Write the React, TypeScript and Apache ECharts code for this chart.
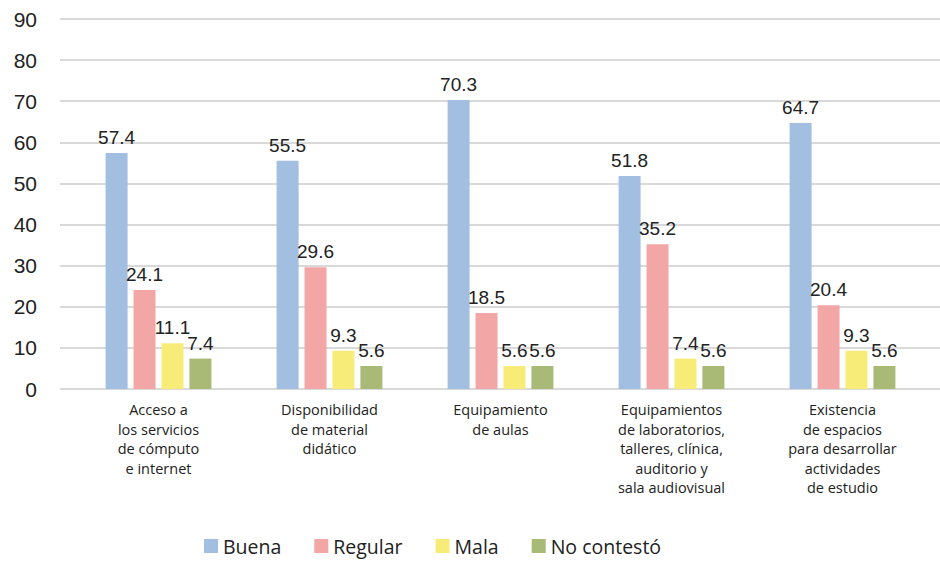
import React, { useEffect, useRef } from "react";
import * as echarts from "echarts";

const categories = [
  "Acceso a\nlos servicios\nde cómputo\ne internet",
  "Disponibilidad\nde material\ndidático",
  "Equipamiento\nde aulas",
  "Equipamientos\nde laboratorios,\ntalleres, clínica,\nauditorio y\nsala audiovisual",
  "Existencia\nde espacios\npara desarrollar\nactividades\nde estudio",
];
const buena = [57.4, 55.5, 70.3, 51.8, 64.7];
const regular = [24.1, 29.6, 18.5, 35.2, 20.4];
const mala = [11.1, 9.3, 5.6, 7.4, 9.3];
const noContesto = [7.4, 5.6, 5.6, 5.6, 5.6];
const seriesNames = ["Buena", "Regular", "Mala", "No contestó"];
const colors = ["#A2BFE1", "#F3A6A6", "#F7EC77", "#A8BA75"];

const numFont = "'Liberation Sans', Arial, sans-serif";
const textFont = "'Open Sans', 'DejaVu Sans', sans-serif";

export default function App() {
  const ref = useRef<HTMLDivElement>(null);
  useEffect(() => {
    if (!ref.current) return;
    const chart = echarts.init(ref.current, null, { renderer: "svg" });
    const data = [buena, regular, mala, noContesto];
    chart.setOption({
      animation: false,
      backgroundColor: "#ffffff",
      legend: {
        left: 199,
        top: 531,
        itemWidth: 14,
        itemHeight: 14,
        itemGap: 33,
        icon: "rect",
        data: seriesNames,
        textStyle: { fontFamily: textFont, fontSize: 19.5, color: "#222" },
      },
      grid: [
        { left: 60, right: 0, top: 19, bottom: 173 },
        { left: 73, right: 12, top: 19, bottom: 173 },
      ],
      xAxis: [
        { type: "category", gridIndex: 0, data: categories, show: false },
        {
          type: "category",
          gridIndex: 1,
          data: categories,
          axisLine: { show: false },
          axisTick: { show: false },
          axisLabel: {
            interval: 0,
            margin: 11,
            fontFamily: textFont,
            fontSize: 14.5,
            lineHeight: 19.5,
            color: "#222",
          },
        },
      ],
      yAxis: [
        {
          type: "value",
          gridIndex: 0,
          min: 0,
          max: 90,
          interval: 10,
          axisLine: { show: false },
          axisTick: { show: false },
          axisLabel: {
            margin: 23,
            fontFamily: numFont,
            fontSize: 21,
            color: "#222",
          },
          splitLine: { lineStyle: { color: "#d9d9d9", width: 2 } },
        },
        {
          type: "value",
          gridIndex: 1,
          min: 0,
          max: 90,
          interval: 10,
          show: false,
          splitLine: { show: false },
        },
      ],
      series: seriesNames.map((name, i) => ({
        name,
        type: "bar",
        xAxisIndex: 1,
        yAxisIndex: 1,
        data: data[i],
        barWidth: 22,
        barGap: "27%",
        itemStyle: { color: colors[i] },
        label: {
          show: true,
          position: "top",
          distance: 6,
          fontFamily: numFont,
          fontSize: 19,
          color: "#222",
        },
      })),
    });
    return () => chart.dispose();
  }, []);
  return (
    <div
      ref={ref}
      style={{ position: "fixed", left: 0, top: 0, width: 940, height: 562 }}
    />
  );
}
